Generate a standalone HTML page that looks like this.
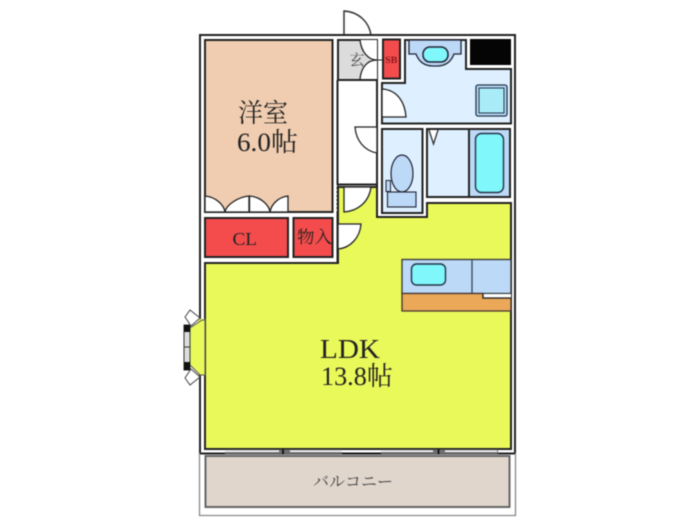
<!DOCTYPE html>
<html><head><meta charset="utf-8"><style>
html,body{margin:0;padding:0;background:#fff;width:700px;height:525px;overflow:hidden}
svg{display:block;filter:blur(.4px)}
text{font-family:"Liberation Serif","Noto Serif CJK SC",serif;fill:#222}
</style></head><body>
<svg width="700" height="525" viewBox="0 0 700 525">
<!-- entrance door -->
<path d="M344 35V11C359 12 369 22 371 35" fill="#fff" stroke="#333" stroke-width="1.500"/>
<!-- outer walls -->
<rect x="200" y="35" width="315" height="418.500" fill="#fff" stroke="#222" stroke-width="2"/>
<path d="M199.500 453V515.500H515.500V453" fill="none" stroke="#888" stroke-width="1.300"/>
<!-- balcony -->
<rect x="205.500" y="456" width="304" height="51" fill="#e0d6cc" stroke="#666" stroke-width="2"/>
<!-- yosh room -->
<rect x="205" y="40" width="127.500" height="172" fill="#f0cdb0" stroke="#222" stroke-width="2"/>
<!-- CL doors -->
<path d="M205 212V196C216 197 224 205 225 212Z M249 212V196C238 197 226 205 225 212Z M249.500 212V196C261 197 269 205 270 212ZM288 212V196C278 197 271 205 270 212Z" fill="#fff" stroke="#222" stroke-width="1.300"/>
<rect x="205" y="218" width="83" height="39" fill="#f44c4c" stroke="#222" stroke-width="2"/>
<rect x="293.500" y="218" width="39" height="39" fill="#f44c4c" stroke="#222" stroke-width="2"/>
<!-- LDK -->
<path d="M205 263H338V187H377V217H427V203H511V449H205Z" fill="#e9f95a" stroke="#222" stroke-width="2"/>
<!-- window frames bottom -->
<rect x="225" y="449.500" width="117" height="4.500" fill="#6f6f6f"/>
<rect x="381" y="449.500" width="117" height="4.500" fill="#6f6f6f"/>
<path d="M225 451.200H279M290 451.200H342M380 451.200H433M445 451.200H497" stroke="#fff" stroke-width="1.600"/>
<path d="M283 449V454M438.500 449V454" stroke="#111" stroke-width="1.800"/>
<path d="M342 453.500H381" stroke="#111" stroke-width="1.500"/>
<!-- corridor -->
<rect x="338" y="80" width="39" height="105" fill="#fff"/>
<path d="M337.500 80V263M338 184.500H377M377 80V217" stroke="#222" stroke-width="2" fill="none"/>
<path d="M336 185V212" stroke="#fff" stroke-width="2" stroke-dasharray="2 2"/>
<!-- LDK door and storage door -->
<path d="M344 187V212C358 211 369 202 371 187Z" fill="#fff" stroke="#222" stroke-width="1.300"/>
<path d="M338 224H361C360 238 350 248 338 249Z" fill="#fff" stroke="#222" stroke-width="1.300"/>
<path d="M377 127H355C356 141 365 151 377 153Z" fill="#fff" stroke="#222" stroke-width="1.300"/>
<!-- genkan -->
<rect x="338" y="40" width="39" height="40" fill="#dcdcdc" stroke="#222" stroke-width="2"/>
<path d="M360 40H377V79H360C361 68 367 60 377 60C367 60 361 50 360 40Z" fill="#fff"/>
<path d="M360 40C361 50 367 60 377 60C367 60 361 68 360 79" fill="none" stroke="#222" stroke-width="1.300"/>
<text x="357" y="65" font-size="15" text-anchor="middle" style="fill:#444">玄</text>
<!-- SB -->
<rect x="383" y="39.500" width="17" height="39" fill="#f44c4c" stroke="#222" stroke-width="2"/>
<text x="385" y="63" font-size="9.500" font-weight="bold" textLength="12.500" lengthAdjust="spacingAndGlyphs" style="fill:#8a1a20">SB</text>
<path d="M377 60H384" stroke="#222" stroke-width="1"/>
<!-- washroom -->
<path d="M405 40H466V69H511V123.500H382V83H405Z" fill="#def0ff" stroke="#222" stroke-width="2"/>
<!-- washbasin -->
<path d="M409 40H461V54H454C451 62 445 66 437 66H433C425 66 419 62 416 54H409Z" fill="#bcd9f7" stroke="#223" stroke-width="1.300"/>
<rect x="423" y="47" width="25" height="15" rx="7" fill="#7ff7fb" stroke="#223" stroke-width="1.500"/>
<!-- black -->
<rect x="470" y="39" width="41" height="26" fill="#050505"/>
<!-- washing machine -->
<rect x="476" y="85" width="31" height="31" rx="2" fill="#b7dcf8" stroke="#234" stroke-width="1.300"/>
<rect x="479" y="88" width="25" height="25" fill="#a9ecf8" stroke="#234" stroke-width="1"/>
<!-- wash door -->
<path d="M382 89C398 90 405 103 406 117H382Z" fill="#fff" stroke="#222" stroke-width="1.300"/>
<!-- toilet -->
<rect x="382" y="129" width="40.500" height="84" fill="#def0ff" stroke="#222" stroke-width="2"/>
<ellipse cx="402" cy="173.500" rx="11" ry="18.500" fill="#bcd9f7" stroke="#223" stroke-width="1.200"/>
<rect x="387.500" y="192" width="28.500" height="15" fill="#bcd9f7" stroke="#223" stroke-width="1.100"/>
<rect x="386" y="180.500" width="4.500" height="11" fill="#bcd9f7" stroke="#223" stroke-width="1"/>
<!-- bath -->
<rect x="427" y="129" width="42" height="68" fill="#def0ff" stroke="#222" stroke-width="2"/>
<rect x="469" y="129" width="41" height="68" fill="#bcd9f7" stroke="#222" stroke-width="2"/>
<rect x="475.500" y="133.500" width="28" height="59" rx="6" fill="#7ff7fb" stroke="#234" stroke-width="1.400"/>
<path d="M429 130L433.500 144L438 130" fill="#fff" stroke="#333" stroke-width="1.300"/>
<!-- kitchen -->
<rect x="402" y="259.500" width="109" height="34" fill="#bcd9f7" stroke="#333" stroke-width="1.300"/>
<path d="M472 259.500V293.500" stroke="#345" stroke-width="1.300"/>
<rect x="411.500" y="264" width="34" height="21" rx="5" fill="#7ff7fb" stroke="#234" stroke-width="1.400"/>
<path d="M402 293.500H483V298H511V311H402Z" fill="#eaa858" stroke="#433" stroke-width="1.300"/>
<rect x="483" y="294" width="28" height="4" fill="#fff"/>
<path d="M483 293.500V298H511" fill="none" stroke="#222" stroke-width="1.300"/>
<!-- bay window -->
<rect x="198" y="319" width="7" height="56" fill="#e9f95a"/>
<path d="M205 320H202L190 328V365L200 375H205" fill="#e9f95a" stroke="#555" stroke-width="1"/>
<path d="M205 319V376" stroke="#555" stroke-width="1"/>
<rect x="184" y="325" width="6" height="45" fill="#ddd" stroke="#333" stroke-width="1"/>
<path d="M187 325V332M187 362V370" stroke="#111" stroke-width="6"/>
<path d="M184 347H190" stroke="#333"/>
<path d="M185 317L190 310L200 318L191 326Z M185 378L190 385L200 377L191 369Z" fill="#fff" stroke="#444" stroke-width="1"/>
<!-- labels -->
<text x="238" y="122" font-size="26" textLength="50" lengthAdjust="spacingAndGlyphs">洋室</text>
<text x="237" y="151" font-size="26" textLength="61" lengthAdjust="spacingAndGlyphs">6.0帖</text>
<text x="232.500" y="245" font-size="18" textLength="24.500" lengthAdjust="spacingAndGlyphs">CL</text>
<text x="297" y="243" font-size="17" textLength="35" lengthAdjust="spacingAndGlyphs">物入</text>
<text x="320" y="358" font-size="27" textLength="60" lengthAdjust="spacingAndGlyphs">LDK</text>
<text x="321" y="385" font-size="26" textLength="72" lengthAdjust="spacingAndGlyphs">13.8帖</text>
<text x="313" y="487" font-size="16" textLength="80" lengthAdjust="spacingAndGlyphs" style="fill:#444">バルコニー</text>
</svg>
</body></html>
